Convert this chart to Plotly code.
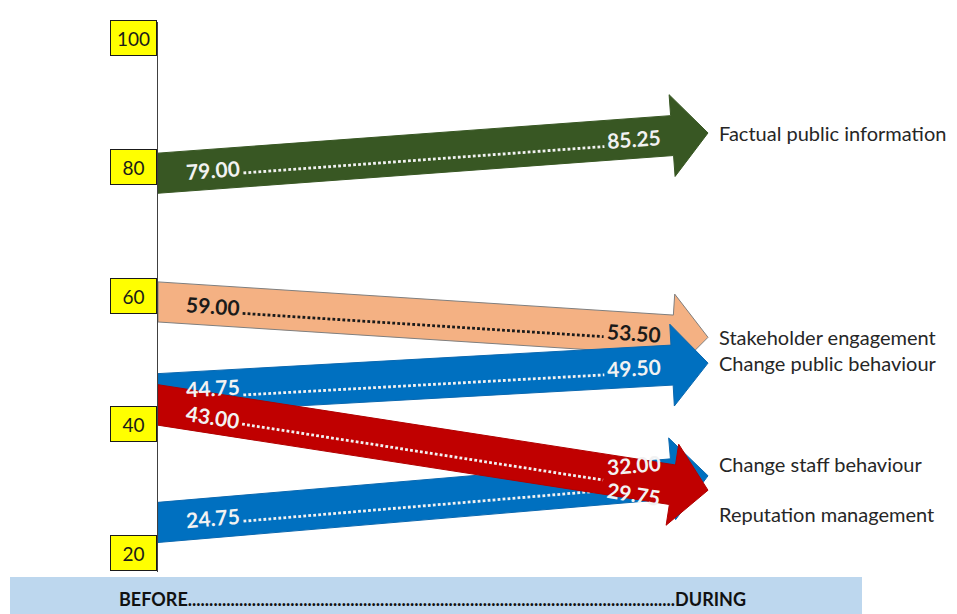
import math
import plotly.graph_objects as go

# ---------------- data ----------------
categories = ["Factual public information", "Stakeholder engagement",
              "Change public behaviour", "Change staff behaviour",
              "Reputation management"]
before = [79.00, 59.00, 44.75, 24.75, 43.00]
during = [85.25, 53.50, 49.50, 32.00, 29.75]
tick_values = [100, 80, 60, 40, 20]
period_labels = ["BEFORE", "DURING"]

# ---------------- styles ----------------
fill_colors = ["#385723", "#F4B183", "#0070C0", "#0070C0", "#C00000"]
edge_colors = ["#385723", "#7F7F7F", "#0A68B0", "#0A68B0", "#B00000"]
value_colors = ["#F2F2F2", "#1A1A1A", "#F2F2F2", "#F2F2F2", "#F2F2F2"]
left_shift = [0, 0, 3, 0, -3]        # px, + = up
right_shift = [0, 0, 0, 18, -15]     # px, + = up
cat_shift = [0, 0, 0, 12, -24]       # px, + = up
FONT = "Lato"

W, H = 957, 614
ML, MR, MT, MB = 158, 0, 22, 42
PW, PH = W - ML - MR, H - MT - MB
XPX = 550.0                       # px per x unit (BEFORE=0, DURING=1)
YPX = 515.0 / 80.0                # px per y unit
x_max = PW / XPX
y_top = 100 + (38 - MT) / YPX
y_bot = y_top - PH / YPX


def to_px(x, y):
    return ML + x * XPX, MT + (y_top - y) * YPX


def to_data(px, py):
    return (px - ML) / XPX, y_top - (py - MT) / YPX


HW_SHAFT, HW_HEAD, HEAD_LEN = 20.0, 41.0, 36.0
LEFT_LABEL_X, RIGHT_LABEL_X = 213.0, 634.0
DOT_START, DOT_END = 243.0, 604.0

fig = go.Figure()
annotations = []

for i in range(len(categories)):
    v0, v1 = before[i], during[i]
    sx, sy = to_px(0, v0)
    tx, ty = to_px(1, v1)
    dx, dy = tx - sx, ty - sy
    L = math.hypot(dx, dy)
    ux, uy = dx / L, dy / L
    nx, ny = -uy, ux
    bx, by = tx - HEAD_LEN * ux, ty - HEAD_LEN * uy

    def shaft_left(sign):
        px0 = bx + sign * HW_SHAFT * nx
        py0 = by + sign * HW_SHAFT * ny
        s = (sx - px0) / ux
        return sx, py0 + s * uy

    pts = [shaft_left(-1),
           (bx - HW_SHAFT * nx, by - HW_SHAFT * ny),
           (bx - HW_HEAD * nx, by - HW_HEAD * ny),
           (tx, ty),
           (bx + HW_HEAD * nx, by + HW_HEAD * ny),
           (bx + HW_SHAFT * nx, by + HW_SHAFT * ny),
           shaft_left(1),
           shaft_left(-1)]
    dpts = [to_data(px, py) for px, py in pts]
    fig.add_trace(go.Scatter(
        x=[p[0] for p in dpts], y=[p[1] for p in dpts],
        mode="lines", fill="toself", fillcolor=fill_colors[i],
        line=dict(color=edge_colors[i], width=1),
        hoverinfo="skip", showlegend=False))

    def centre(X, off=0.0):
        py = sy + (X - sx) * uy / ux
        return X + off * nx, py + off * ny

    # dotted leader
    p0 = to_data(*centre(DOT_START, 6))
    p1 = to_data(*centre(DOT_END, 6))
    fig.add_trace(go.Scatter(
        x=[p0[0], p1[0]], y=[p0[1], p1[1]], mode="lines",
        line=dict(color=value_colors[i], width=2.8, dash="2.8px,2.2px"),
        hoverinfo="skip", showlegend=False))

    ang = math.degrees(math.atan2(dy, dx))
    lx, ly = to_data(*centre(LEFT_LABEL_X))
    rx, ry = to_data(*centre(RIGHT_LABEL_X))
    annotations.append(dict(
        x=lx, y=ly, xref="x", yref="y", text="<b>%.2f</b>" % v0,
        showarrow=False, textangle=ang, yshift=left_shift[i],
        font=dict(family=FONT, size=21, color=value_colors[i])))
    annotations.append(dict(
        x=rx, y=ry, xref="x", yref="y", text="<b>%.2f</b>" % v1,
        showarrow=False, textangle=ang, yshift=right_shift[i],
        font=dict(family=FONT, size=21, color=value_colors[i])))
    annotations.append(dict(
        x=1, y=v1, xref="x", yref="y", text=categories[i],
        showarrow=False, xanchor="left", yanchor="middle",
        xshift=9, yshift=cat_shift[i],
        font=dict(family=FONT, size=20, color="#262626")))

# yellow tick boxes
for tv in tick_values:
    annotations.append(dict(
        x=0, y=tv, xref="x", yref="y", text=str(tv), showarrow=False,
        xanchor="right", yanchor="middle", xshift=-1,
        bgcolor="#FFFF00", bordercolor="#1A1A1A", borderwidth=1,
        width=43, height=32, borderpad=1,
        font=dict(family=FONT, size=19, color="#1A1A1A")))

# bottom period band
annotations.append(dict(
    x=(117 - ML) / PW, y=(MT + PH - 599) / PH, xref="paper", yref="paper",
    xanchor="left", yanchor="middle", showarrow=False,
    text="<b>" + period_labels[0] + "." * 114 + period_labels[1] + "</b>",
    font=dict(family=FONT, size=18, color="#111111")))

shapes = [dict(type="rect", xref="paper", yref="paper",
               x0=(10 - ML) / PW, x1=(862 - ML) / PW,
               y0=(MT + PH - 614) / PH, y1=(MT + PH - 577) / PH,
               fillcolor="#BDD7EE", line=dict(width=0), layer="below")]

fig.update_layout(
    width=W, height=H,
    margin=dict(l=ML, r=MR, t=MT, b=MB),
    paper_bgcolor="white", plot_bgcolor="white",
    xaxis=dict(range=[0, x_max], visible=False, fixedrange=True),
    yaxis=dict(range=[y_bot, y_top], showline=True, linecolor="#404040",
               linewidth=1, showticklabels=False, ticks="", showgrid=False,
               zeroline=False, fixedrange=True),
    annotations=annotations, shapes=shapes, showlegend=False)

fig.write_html("out.html")
